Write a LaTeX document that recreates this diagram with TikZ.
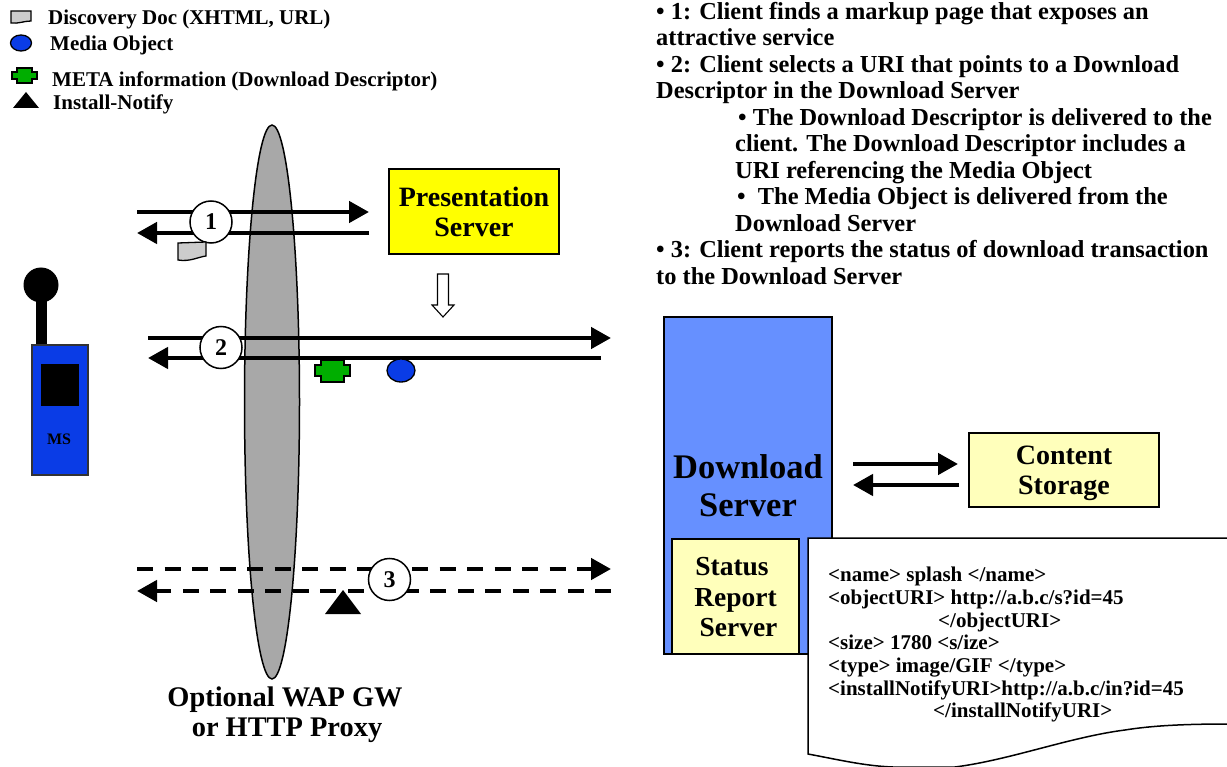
\documentclass[tikz,border=0pt]{standalone}
\usepackage{fontspec}
\setmainfont{Liberation Serif}
\usetikzlibrary{arrows.meta,shapes.geometric}
\newcommand{\fs}[2]{\fontsize{#1}{#2}\selectfont\bfseries}
\definecolor{wapgray}{HTML}{A8A8A8}
\definecolor{msblue}{HTML}{0A3CE6}
\definecolor{dlblue}{HTML}{6690FF}
\definecolor{metagreen}{HTML}{00AE00}
\definecolor{docgray}{HTML}{CCCCCC}
\definecolor{paleyellow}{HTML}{FFFFBB}
\definecolor{brightyellow}{HTML}{FFFF00}
\tikzset{
  x=1pt,y=-1pt,
  flow/.style={line width=4.5pt,-{Triangle[length=20pt,width=21pt]}},
  dflow/.style={flow,dash pattern=on 16pt off 11.5pt},
  stepnum/.style={circle,draw=black,line width=1.5pt,fill=white,minimum size=42pt,inner sep=0pt,font=\fs{24}{26}},
  box/.style={draw=black,line width=1.5pt,align=center,inner sep=0pt},
  legend/.style={anchor=west,inner sep=0pt,font=\fs{21}{23}},
  icon/.style={draw=black,line width=1.3pt},
}
\begin{document}
\begin{tikzpicture}
\useasboundingbox (0,0) rectangle (1227,767);
% legend
\draw[icon,fill=docgray] (11,11) -- (31,11) -- (31,21) .. controls (24,21) and (18,24) .. (11,23) -- cycle;
\node[legend] (lg1) at (48,19) {Discovery Doc (XHTML, URL)};
\node[icon,fill=msblue,ellipse,minimum width=21pt,minimum height=16pt,inner sep=0pt] (lgm) at (21,43) {};
\node[legend] (lg2) at (50,45.5) {Media Object};
\draw[icon,fill=metagreen] (17,68) -- (32,68) -- (32,72) -- (37,72) -- (37,79) -- (32,79) -- (32,83) -- (17,83) -- (17,79) -- (12,79) -- (12,72) -- (17,72) -- cycle;
\node[legend] (lg3) at (52,81.5) {META information (Download Descriptor)};
\fill (13,108) -- (26,92) -- (39,108) -- cycle;
\node[legend] (lg4) at (53,104.5) {Install-Notify};
% gateway
\node[ellipse,draw=black,line width=1.5pt,fill=wapgray,minimum width=55pt,minimum height=554pt,inner sep=0pt] (gw) at (272,402) {};
\node[align=center,inner sep=0pt,font=\fs{28.4}{30}] (gwl) at (285,715) {Optional WAP GW\\\hspace*{4pt}or HTTP Proxy};
% presentation server
\node[box,fill=brightyellow,minimum width=170pt,minimum height=85pt,font=\fs{28}{30}] (ps) at (474,211.5) {Presentation\\Server};
% MS
\draw[line width=11pt] (41,285) -- (41,346);
\fill (41,285) circle (17.5);
\draw[draw=black!80,line width=1.4pt,fill=msblue] (32,345) rectangle (88,475);
\fill (41,364) rectangle (79,406);
\node[inner sep=0pt,font=\fs{16}{18}] (ms) at (59,439) {MS};
% flows
\coordinate (a1s) at (137,212); \coordinate (a1e) at (369,212);
\coordinate (b1s) at (369,233); \coordinate (b1e) at (137,233);
\coordinate (a2s) at (148,338); \coordinate (a2e) at (611,338);
\coordinate (b2s) at (601,358); \coordinate (b2e) at (148,358);
\coordinate (a3s) at (137,569); \coordinate (a3e) at (611,569);
\coordinate (b3s) at (611,591); \coordinate (b3e) at (137,591);
\draw[flow] (a1s) -- (a1e);
\draw[flow] (b1s) -- (b1e);
\draw[flow] (a2s) -- (a2e);
\draw[flow] (b2s) -- (b2e);
\draw[dflow] (a3s) -- (a3e);
\draw[dflow] (b3s) -- (b3e);
\node[stepnum] (n1) at (211,222) {1};
\node[stepnum] (n2) at (221,347.5) {2};
\node[stepnum] (n3) at (389.5,579.5) {3};
% items on flows
\draw[icon,fill=docgray] (178,243) -- (206,242) -- (206,256) .. controls (198,257) and (190,262) .. (178,260) -- cycle;
\draw[icon,fill=metagreen] (321,360) -- (344,360) -- (344,365) -- (350,365) -- (350,376) -- (344,376) -- (344,382) -- (321,382) -- (321,376) -- (315,376) -- (315,365) -- (321,365) -- cycle;
\node[icon,fill=msblue,ellipse,minimum width=28pt,minimum height=23pt,inner sep=0pt] (mo) at (401,370.5) {};
\fill (325,614) -- (343,590) -- (361,614) -- cycle;
% hollow arrow
\draw[draw=black,line width=1.1pt,fill=white] (437.5,274) -- (448.5,274) -- (448.5,305) -- (454,305) -- (443,317) -- (432,305) -- (437.5,305) -- cycle;
% download server
\draw[draw=black,line width=1.5pt,fill=dlblue] (664,317) rectangle (832,654);
\node[inner sep=0pt,align=center,font=\fs{34.5}{38}] (ds) at (748,485.5) {Download\\Server};
\node[box,fill=paleyellow,minimum width=127pt,minimum height=115pt] (sr) at (735.5,596.5) {};
\node[inner sep=0pt,align=center,font=\fs{27.5}{30.5}] (srl) at (735.5,597.5) {Status\hspace*{7pt}\\Report\\\hspace*{6pt}Server};
% content storage
\node[box,fill=paleyellow,minimum width=190pt,minimum height=74pt] (cs) at (1064,470) {};
\node[inner sep=0pt,align=center,font=\fs{28}{30}] (csl) at (1064,473) {Content\\Storage};
\coordinate (c1s) at (853,464); \coordinate (c1e) at (958,464);
\coordinate (c2s) at (959,485); \coordinate (c2e) at (853,485);
\draw[flow] (c1s) -- (c1e);
\draw[flow] (c2s) -- (c2e);
% descriptor document
\draw[draw=black,line width=1.5pt,fill=white] (1229,538) -- (808,538) -- (808,754) .. controls (840,760) and (865,766) .. (893,767) -- (955,767) .. controls (1010,760) and (1070,737) .. (1125,730) .. controls (1150,726) and (1180,724) .. (1229,724);
\node[anchor=north west,align=left,inner sep=0pt,font=\fs{21}{22.7}] (dd) at (828,567) {<name> splash </name>\\
<objectURI> http://a.b.c/s?id=45\\
\hspace*{110pt}</objectURI>\\
<size> 1780 <s/ize>\\
<type> image/GIF </type>\\
<installNotifyURI>http://a.b.c/in?id=45\\
\hspace*{105pt}</installNotifyURI>};
% explanatory text
\node[anchor=north west,align=left,inner sep=0pt,font=\fs{24.4}{26.5}] (txt) at (656,1.7) {• 1: Client finds a markup page that exposes an\\
attractive service\\
• 2: Client selects a URI that points to a Download\\
Descriptor in the Download Server\\
\hspace*{82pt}• The Download Descriptor is delivered to the\\
\hspace*{79pt}client. The Download Descriptor includes a\\
\hspace*{79pt}URI referencing the Media Object\\
\hspace*{81pt}•~~The Media Object is delivered from the\\
\hspace*{79pt}Download Server\\
• 3: Client reports the status of download transaction\\
to the Download Server};
\end{tikzpicture}
\end{document}
